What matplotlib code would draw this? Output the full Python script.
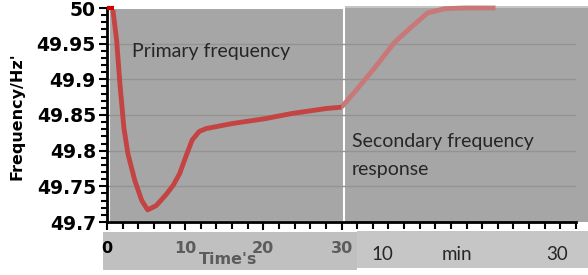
import matplotlib
matplotlib.use("Agg")
import matplotlib.pyplot as plt
from matplotlib.patches import Rectangle
import numpy as np

# ---- data ----
flat_t = [0.0, 0.9]
flat_f = [50.0, 50.0]
sec_t = [0.76, 1.23, 1.65, 2.16, 2.67, 3.56, 4.45, 5.2, 6.3, 7.6, 8.5, 9.3, 10.2, 10.9, 11.8, 12.7, 16.0, 20.3, 23.6, 28.0, 30.0]
sec_f = [49.997, 49.955, 49.894, 49.832, 49.796, 49.758, 49.730, 49.717, 49.723, 49.739, 49.752, 49.768, 49.795,
         49.815, 49.827, 49.831, 49.838, 49.845, 49.852, 49.859, 49.861]
min_t = [30.0, 31.9, 34.3, 36.8, 38.9, 41.0, 43.2, 45.7, 49.7]
min_f = [49.861, 49.885, 49.917, 49.952, 49.973, 49.993, 49.999, 50.0, 50.0]

yticks = [49.7, 49.75, 49.8, 49.85, 49.9, 49.95, 50.0]
ytick_labels = ["49.7", "49.75", "49.8", "49.85", "49.9", "49.95", "50"]
sec_ticks = [0, 10, 20, 30]
sec_labels = ["0", "10", "20", "30"]
min_labels = ["10", "min", "30"]

W, H = 588, 275
fig = plt.figure(figsize=(W / 100, H / 100), dpi=100)
fig.patch.set_facecolor("white")


def px(x, y):
    return x / W, 1 - y / H


def frect(x0, y0, x1, y1, **kw):
    fx0, fy1 = px(x0, y1)
    fx1, fy0 = px(x1, y0)
    r = Rectangle((fx0, fy1), fx1 - fx0, fy0 - fy1, transform=fig.transFigure, **kw)
    fig.add_artist(r)
    return r


# backgrounds
frect(345, 7, 588, 222, facecolor="#a6a6a6", edgecolor="none", zorder=-2)
frect(345, 6, 588, 8, facecolor="#c4c4c4", edgecolor="none", zorder=-2)
frect(109, 8, 344, 222, facecolor="#a6a6a6", edgecolor="white", lw=1.5, zorder=-1)
# bottom label bands
frect(103, 232, 357, 270, facecolor="#c0c0c0", edgecolor="none", zorder=-2)
frect(357, 231, 588, 268, facecolor="#c6c6c6", edgecolor="none", zorder=-2)

l, r = px(107, 0)[0], px(576, 0)[0]
b, t = px(0, 222)[1], px(0, 8)[1]
ax = fig.add_axes([l, b, r - l, t - b])
ax.set_facecolor("none")
ax.set_xlim(0, 60)
ax.set_ylim(49.7, 50.0)

for sp in ["top", "right"]:
    ax.spines[sp].set_visible(False)
ax.spines["left"].set_linewidth(2)
ax.spines["bottom"].set_linewidth(2)

ax.set_yticks(yticks)
ax.set_yticklabels(ytick_labels, fontsize=13.5, fontweight="bold", family="DejaVu Sans")
ax.set_yticks(np.arange(49.7, 50.001, 0.01), minor=True)
ax.tick_params(axis="y", which="major", direction="out", length=6, width=1.5, pad=2)
ax.tick_params(axis="y", which="minor", direction="out", length=4, width=1.5)

ax.set_xticks(sec_ticks)
ax.set_xticklabels(sec_labels, fontsize=11.5, fontweight="bold", color="#5c5c5c")
ax.set_xticks(np.arange(0, 61, 2), minor=True)
ax.tick_params(axis="x", which="major", direction="out", length=6, width=1.5, pad=8)
ax.tick_params(axis="x", which="minor", direction="out", length=5, width=1.5)
ax.get_xticklabels()[0].set_color("black")

for yv in yticks[1:-1]:
    ax.axhline(yv, color="#939393", lw=1, zorder=0)

ax.plot(min_t, min_f, color="#c87878", lw=3.5, solid_joinstyle="round", solid_capstyle="butt", zorder=3, clip_on=False)
ax.plot(sec_t, sec_f, color="#c44444", lw=3.5, solid_joinstyle="round", solid_capstyle="butt", zorder=4, clip_on=False)
ax.plot(flat_t, flat_f, color="#d00000", lw=3, solid_capstyle="butt", zorder=5, clip_on=False)

fig.text(*px(17, 116), "Frequency/Hz'", rotation=90, ha="center", va="center",
         fontsize=11.5, fontweight="bold", family="DejaVu Sans")

fig.text(*px(132, 52), "Primary frequency", ha="left", va="center", fontsize=14,
         family="Lato", color="#262626")
fig.text(*px(352, 142), "Secondary frequency", ha="left", va="center", fontsize=14,
         family="Lato", color="#262626")
fig.text(*px(352, 170), "response", ha="left", va="center", fontsize=14,
         family="Lato", color="#262626")

fig.text(*px(228, 259), "Time's", ha="center", va="center", fontsize=11.5, fontweight="bold", color="#5c5c5c")
for xp, s in zip([382, 457, 557], min_labels):
    fig.text(*px(xp, 255), s, ha="center", va="center", fontsize=13.5, family="Lato", color="#262626")

fig.savefig("out.png", dpi=100, facecolor="white")
